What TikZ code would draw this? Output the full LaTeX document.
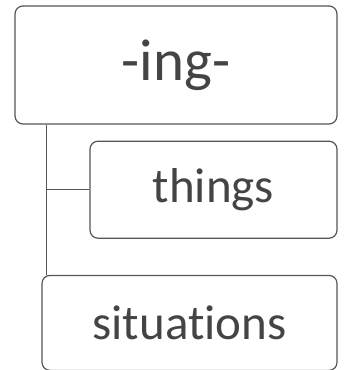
\documentclass[tikz,border=0pt]{standalone}
\usepackage{fontspec}
\setmainfont{Carlito}[Ligatures={NoCommon}]
\usetikzlibrary{positioning}
\definecolor{boxline}{RGB}{85,85,85}
\definecolor{boxtext}{RGB}{68,68,68}

\begin{document}
\begin{tikzpicture}[x=1pt,y=-1pt,line width=1.2pt,draw=boxline,node distance=16pt,
  every node/.style={draw=boxline,rounded corners=8pt,text=boxtext,inner sep=0pt},
  word/.style={font=\fontsize{49}{59}\selectfont}]
  \useasboundingbox (0,0) rectangle (347,370);
  \node[minimum width=322pt,minimum height=118pt,font=\fontsize{59}{70}\selectfont] (ing) at (176,65) {-ing-};
  \node[word,minimum width=247pt,minimum height=97pt] (things) [below left=16pt and 0pt of ing.south east] {things};
  \node[word,minimum width=295pt,minimum height=95pt] (situations) [below left=36pt and 0pt of things.south east] {situations};
  \coordinate (trunk) at ([xshift=32pt]ing.south west);
  \draw[boxline] (trunk) |- (things.west);
  \draw[boxline] (trunk) -- (trunk |- situations.north);
\end{tikzpicture}
\end{document}
